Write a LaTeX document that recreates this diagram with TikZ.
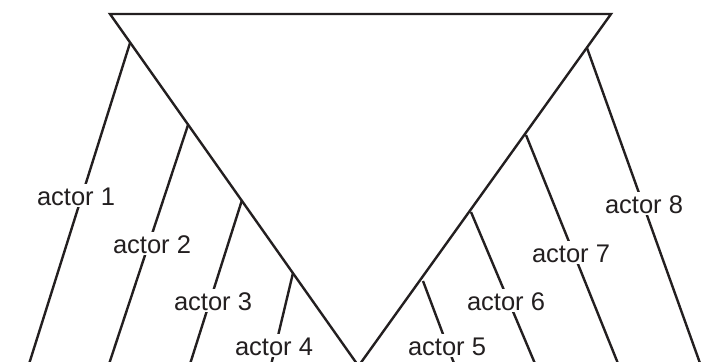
\documentclass[tikz,border=0pt]{standalone}
\usepackage{fontspec}
\setmainfont{Liberation Sans}
\definecolor{ink}{HTML}{231F20}
\begin{document}
\begin{tikzpicture}[x=1pt,y=-1pt,
  edge/.style={line width=2.4pt,draw=ink},
  lab/.style={fill=white,inner xsep=2pt,inner ysep=1pt,text height=20pt,text depth=1pt,anchor=base,
    font=\fontsize{25.5}{30}\selectfont,text=ink}]
\useasboundingbox (0,0) rectangle (708,361);
\clip (0,0) rectangle (708,361);
% triangle
\coordinate (TL) at (110,14);
\coordinate (TR) at (611,14);
\coordinate (AP) at (358.5,366);
\draw[edge,line join=miter] (AP) -- (TL) -- (TR) -- cycle;
% attach points
\coordinate (L1) at (130,43);
\coordinate (L2) at (188,125);
\coordinate (L3) at (242,200);
\coordinate (L4) at (293,273);
\coordinate (R5) at (423,281);
\coordinate (R6) at (471,212);
\coordinate (R7) at (526,135);
\coordinate (R8) at (587,48);
% bottom ends
\coordinate (B1) at (28.4,366);
\coordinate (B2) at (108.4,366);
\coordinate (B3) at (189.4,366);
\coordinate (B4) at (270.8,366);
\coordinate (B5) at (455,366);
\coordinate (B6) at (536,366);
\coordinate (B7) at (619,366);
\coordinate (B8) at (701,366);
\foreach \a/\b in {L1/B1,L2/B2,L3/B3,L4/B4,R5/B5,R6/B6,R7/B7,R8/B8}
  \draw[edge] (\a) -- (\b);
% labels
\node[lab] (a1) at (76,205) {actor 1};
\node[lab] (a2) at (152,253) {actor 2};
\node[lab] (a3) at (213,310) {actor 3};
\node[lab] (a4) at (274,355) {actor 4};
\node[lab] (a5) at (447,355) {actor 5};
\node[lab] (a6) at (506,310) {actor 6};
\node[lab] (a7) at (571,262) {actor 7};
\node[lab] (a8) at (644,213) {actor 8};
\end{tikzpicture}
\end{document}
